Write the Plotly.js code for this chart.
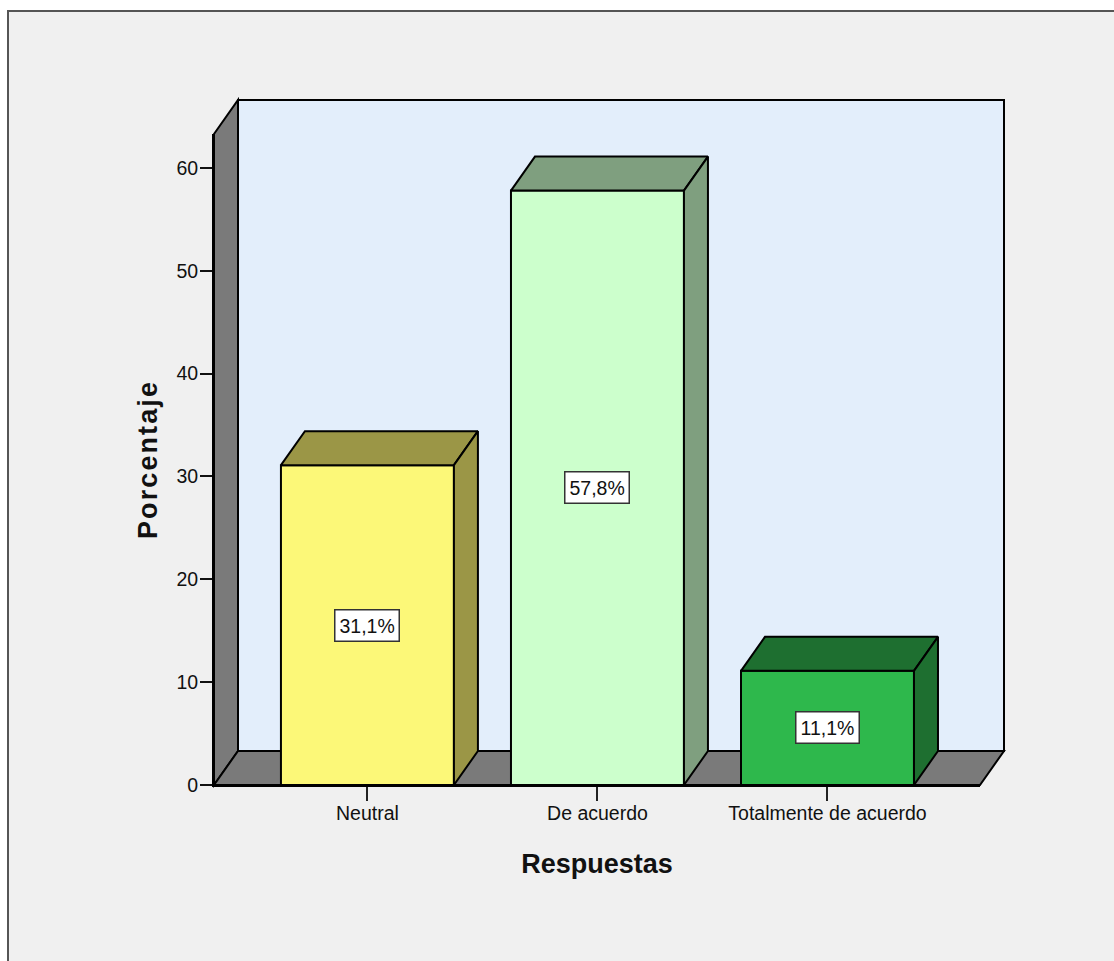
<!DOCTYPE html>
<html>
<head>
<meta charset="utf-8">
<script src="https://cdn.plot.ly/plotly-3.0.1.min.js"></script>
<style>html,body{margin:0;padding:0;background:#fff}#c{width:1114px;height:961px}.ytitle{letter-spacing:2.1px}</style>
</head>
<body>
<div id="c"></div>
<script>
var categories = ["Neutral", "De acuerdo", "Totalmente de acuerdo"];
var porcentajes = [31.1, 57.8, 11.1];
var etiquetas = ["31,1%", "57,8%", "11,1%"];
var yTicks = [0, 10, 20, 30, 40, 50, 60];
var frontColors = ["#FCF878", "#CCFFCC", "#2EB84C"];
var darkColors = ["#9B9646", "#7F9F7F", "#1E6F30"];

var W = 1114, H = 961;
var L = 214, R = 980, T = 134, B = 785;
var depthPxX = 24, depthPxY = 34;
var barWidth = 0.752;
var xRange = [-0.667, 2.663];
var yRange = [0, 63.3];
var dx = depthPxX * (xRange[1] - xRange[0]) / (R - L);
var dy = depthPxY * (yRange[1] - yRange[0]) / (B - T);
var px = function (x) { return (x - L) / (R - L); };
var py = function (y) { return (B - y) / (B - T); };
var polyPath = function (pts) {
  return "M" + pts.map(function (p) { return px(p[0]) + "," + py(p[1]); }).join("L") + "Z";
};
var wall = function (pts, fill) {
  return { type: "path", xref: "paper", yref: "paper", layer: "below", path: polyPath(pts),
           fillcolor: fill, line: { color: "#000", width: 2 } };
};

var idx = categories.map(function (_, i) { return i; });
var traces = [{
  type: "bar", x: idx, y: porcentajes, width: barWidth, cliponaxis: false,
  marker: { color: frontColors, line: { color: "#000", width: 2 } }, hoverinfo: "skip", showlegend: false
}];
idx.forEach(function (i) {
  var a = i - barWidth / 2, b = i + barWidth / 2, v = porcentajes[i];
  traces.push({ type: "scatter", mode: "lines", fill: "toself", fillcolor: darkColors[i], cliponaxis: false,
    x: [a, a + dx, b + dx, b, a], y: [v, v + dy, v + dy, v, v],
    line: { color: "#000", width: 2 }, hoverinfo: "skip", showlegend: false });
  traces.push({ type: "scatter", mode: "lines", fill: "toself", fillcolor: darkColors[i], cliponaxis: false,
    x: [b, b + dx, b + dx, b, b], y: [0, dy, v + dy, v, 0],
    line: { color: "#000", width: 2 }, hoverinfo: "skip", showlegend: false });
});

var layout = {
  width: W, height: H,
  margin: { l: L, r: W - R, t: T, b: H - B, pad: 0 },
  paper_bgcolor: "#fff", plot_bgcolor: "rgba(0,0,0,0)",
  font: { family: "Liberation Sans, Arial, sans-serif", color: "#111" },
  showlegend: false,
  xaxis: {
    type: "linear", range: xRange, tickmode: "array", tickvals: idx, ticktext: categories,
    showgrid: false, zeroline: false, showline: true, linecolor: "#000", linewidth: 2,
    ticks: "outside", ticklen: 14, tickwidth: 2, tickcolor: "#222", ticklabelstandoff: -4,
    tickfont: { size: 19.5, color: "#111" },
    title: { text: "<b>Respuestas</b>", font: { size: 27, color: "#111" }, standoff: 31 }
  },
  yaxis: {
    range: yRange, tickmode: "array", tickvals: yTicks,
    showgrid: false, zeroline: false, showline: true, linecolor: "#000", linewidth: 2,
    ticks: "outside", ticklen: 12, tickwidth: 2, tickcolor: "#111", ticklabelstandoff: -2,
    tickfont: { size: 19.5, color: "#111" },
    title: { text: "<b>Porcentaje</b>", font: { size: 27, color: "#111" }, standoff: 11 }
  },
  shapes: [
    { type: "rect", xref: "paper", yref: "paper", layer: "below",
      x0: px(8), x1: px(W + 20), y0: py(H + 20), y1: py(11), fillcolor: "#F0F0F0",
      line: { color: "#555", width: 2 } },
    wall([[L + depthPxX, 100], [R + depthPxX, 100], [R + depthPxX, B - depthPxY], [L + depthPxX, B - depthPxY]], "#E3EEFB"),
    wall([[L, B], [L + depthPxX, B - depthPxY], [L + depthPxX, 100], [L, T]], "#7A7A7A"),
    wall([[L, B], [L + depthPxX, B - depthPxY], [R + depthPxX, B - depthPxY], [R, B]], "#7A7A7A")
  ],
  annotations: idx.map(function (i) {
    return { x: i, y: porcentajes[i] / 2 , text: etiquetas[i], showarrow: false, xref: "x", yref: "y",
      bgcolor: "#fff", bordercolor: "#333", borderwidth: 1.5, borderpad: 4,
      font: { size: 19.5, color: "#111" } };
  })
};
Plotly.newPlot("c", traces, layout, { displayModeBar: false, staticPlot: true });
</script>
</body>
</html>
